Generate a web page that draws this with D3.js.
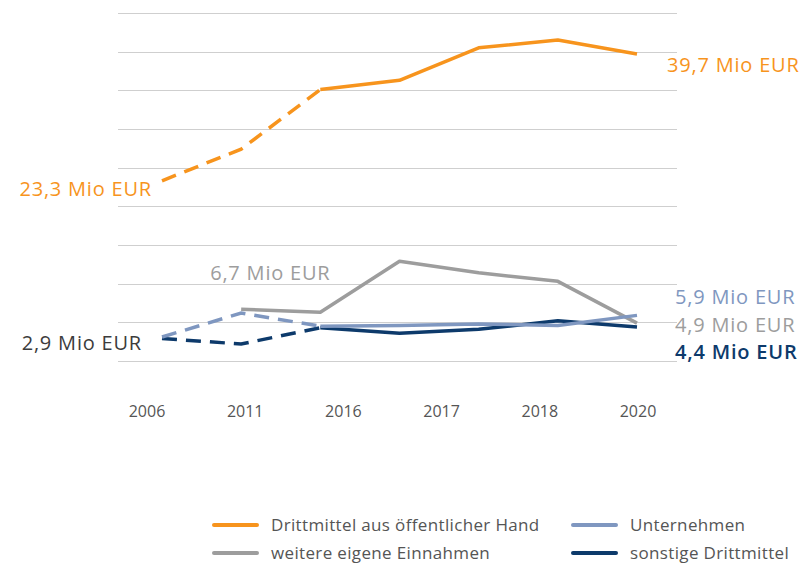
<!DOCTYPE html>
<html>
<head>
<meta charset="utf-8">
<script src="https://cdn.jsdelivr.net/npm/d3@7"></script>
<style>
  body { margin: 0; background: #fff; }
  svg { font-family: "Open Sans", sans-serif; }
  .grid line { stroke: #cfcfcf; stroke-width: 1; }
  .year { fill: #555; font-size: 16px; }
  .legend text { fill: #555; font-size: 17px; letter-spacing: 0.35px; }
</style>
</head>
<body>
<svg width="808" height="564"></svg>
<script>
var years = ["2006", "2011", "2016", "2017", "2018", "2020"];

// 7 Messpunkte (Index 0..6), Werte in Mio EUR
var oeffentlich = [23.3, 27.4, 35.1, 36.3, 40.5, 41.5, 39.7];
var weitere     = [null, 6.7, 6.3, 12.9, 11.4, 10.3, 4.9];
var unternehmen = [3.1, 6.2, 4.5, 4.6, 4.8, 4.6, 5.9];
var sonstige    = [2.9, 2.2, 4.3, 3.6, 4.1, 5.2, 4.4];

var seriesNames = ["Drittmittel aus öffentlicher Hand", "Unternehmen", "weitere eigene Einnahmen", "sonstige Drittmittel"];
var dashedUntil = [2, 2, 1, 2];
var colors = ["#f7941d", "#7f97c0", "#9d9d9d", "#0d3a6b"];

var svg = d3.select("svg"),
    width = +svg.attr("width"),
    height = +svg.attr("height");

var x = d3.scaleLinear()
    .domain([0, 6])
    .range([162, 637]);

var xYear = d3.scalePoint()
    .domain(years)
    .range([147, 638]);

var y = d3.scaleLinear()
    .domain([0, 45])
    .range([361, 13]);

// grid
svg.append("g")
    .attr("class", "grid")
  .selectAll("line")
  .data(d3.range(0, 46, 5))
  .enter().append("line")
    .attr("x1", 118)
    .attr("x2", 677)
    .attr("y1", function(d) { return Math.round(y(d)) + 0.5; })
    .attr("y2", function(d) { return Math.round(y(d)) + 0.5; });

// x labels
svg.append("g").selectAll("text")
  .data(years)
  .enter().append("text")
    .attr("class", "year")
    .attr("x", function(d) { return xYear(d); })
    .attr("y", 417)
    .attr("text-anchor", "middle")
    .text(function(d) { return d; });

var data = [oeffentlich, unternehmen, weitere, sonstige];
var drawOrder = [2, 3, 1, 0];

drawOrder.forEach(function(s) {
  var vals = data[s];
  var cut = dashedUntil[s];

  var dashed = d3.line()
      .defined(function(d, i) { return d != null && i <= cut; })
      .x(function(d, i) { return x(i); })
      .y(function(d) { return y(d); });

  var solid = d3.line()
      .defined(function(d, i) { return d != null && i >= cut; })
      .x(function(d, i) { return x(i); })
      .y(function(d) { return y(d); });

  svg.append("path")
      .datum(vals)
      .attr("fill", "none")
      .attr("stroke", colors[s])
      .attr("stroke-width", 3.5)
      .attr("stroke-dasharray", "15,9")
      .attr("d", dashed);

  svg.append("path")
      .datum(vals)
      .attr("fill", "none")
      .attr("stroke", colors[s])
      .attr("stroke-width", 3.5)
      .attr("stroke-linejoin", "round")
      .attr("d", solid);
});

// value labels
function fmt(v) { return d3.format(".1f")(v).replace(".", ",") + " Mio EUR"; }

function label(v, px, py, anchor, color, weight) {
  svg.append("text")
      .attr("x", px)
      .attr("y", py)
      .attr("text-anchor", anchor)
      .attr("fill", color)
      .attr("font-size", 20)
      .attr("letter-spacing", 0.8)
      .attr("font-weight", weight || 400)
      .text(fmt(v));
}

label(oeffentlich[0], x(0) - 10, y(oeffentlich[0]) + 15, "end", colors[0]);
label(oeffentlich[6], x(6) + 30, y(oeffentlich[6]) + 18, "start", colors[0]);
label(weitere[1], x(1) - 31, y(weitere[1]) - 29, "start", "#9d9d9d");
label(sonstige[0], x(0) - 20, y(sonstige[0]) + 11, "end", "#3c3c3c");
label(unternehmen[6], x(6) + 38, y(unternehmen[6]) - 11, "start", colors[1], 500);
label(weitere[6], x(6) + 38, y(weitere[6]) + 9, "start", "#9d9d9d");
label(sonstige[6], x(6) + 38, y(sonstige[6]) + 32.5, "start", colors[3], 600);

// legend
var legendPos = [[214, 525], [573, 525], [214, 553], [573, 553]];

var legend = svg.append("g")
    .attr("class", "legend")
  .selectAll("g")
  .data(seriesNames)
  .enter().append("g")
    .attr("transform", function(d, i) { return "translate(" + legendPos[i][0] + "," + legendPos[i][1] + ")"; });

legend.append("line")
    .attr("x1", 0)
    .attr("x2", 43)
    .attr("stroke", function(d, i) { return colors[i]; })
    .attr("stroke-width", 4)
    .attr("stroke-linecap", "round");

legend.append("text")
    .attr("x", 57)
    .attr("y", 6)
    .text(function(d) { return d; });
</script>
</body>
</html>
